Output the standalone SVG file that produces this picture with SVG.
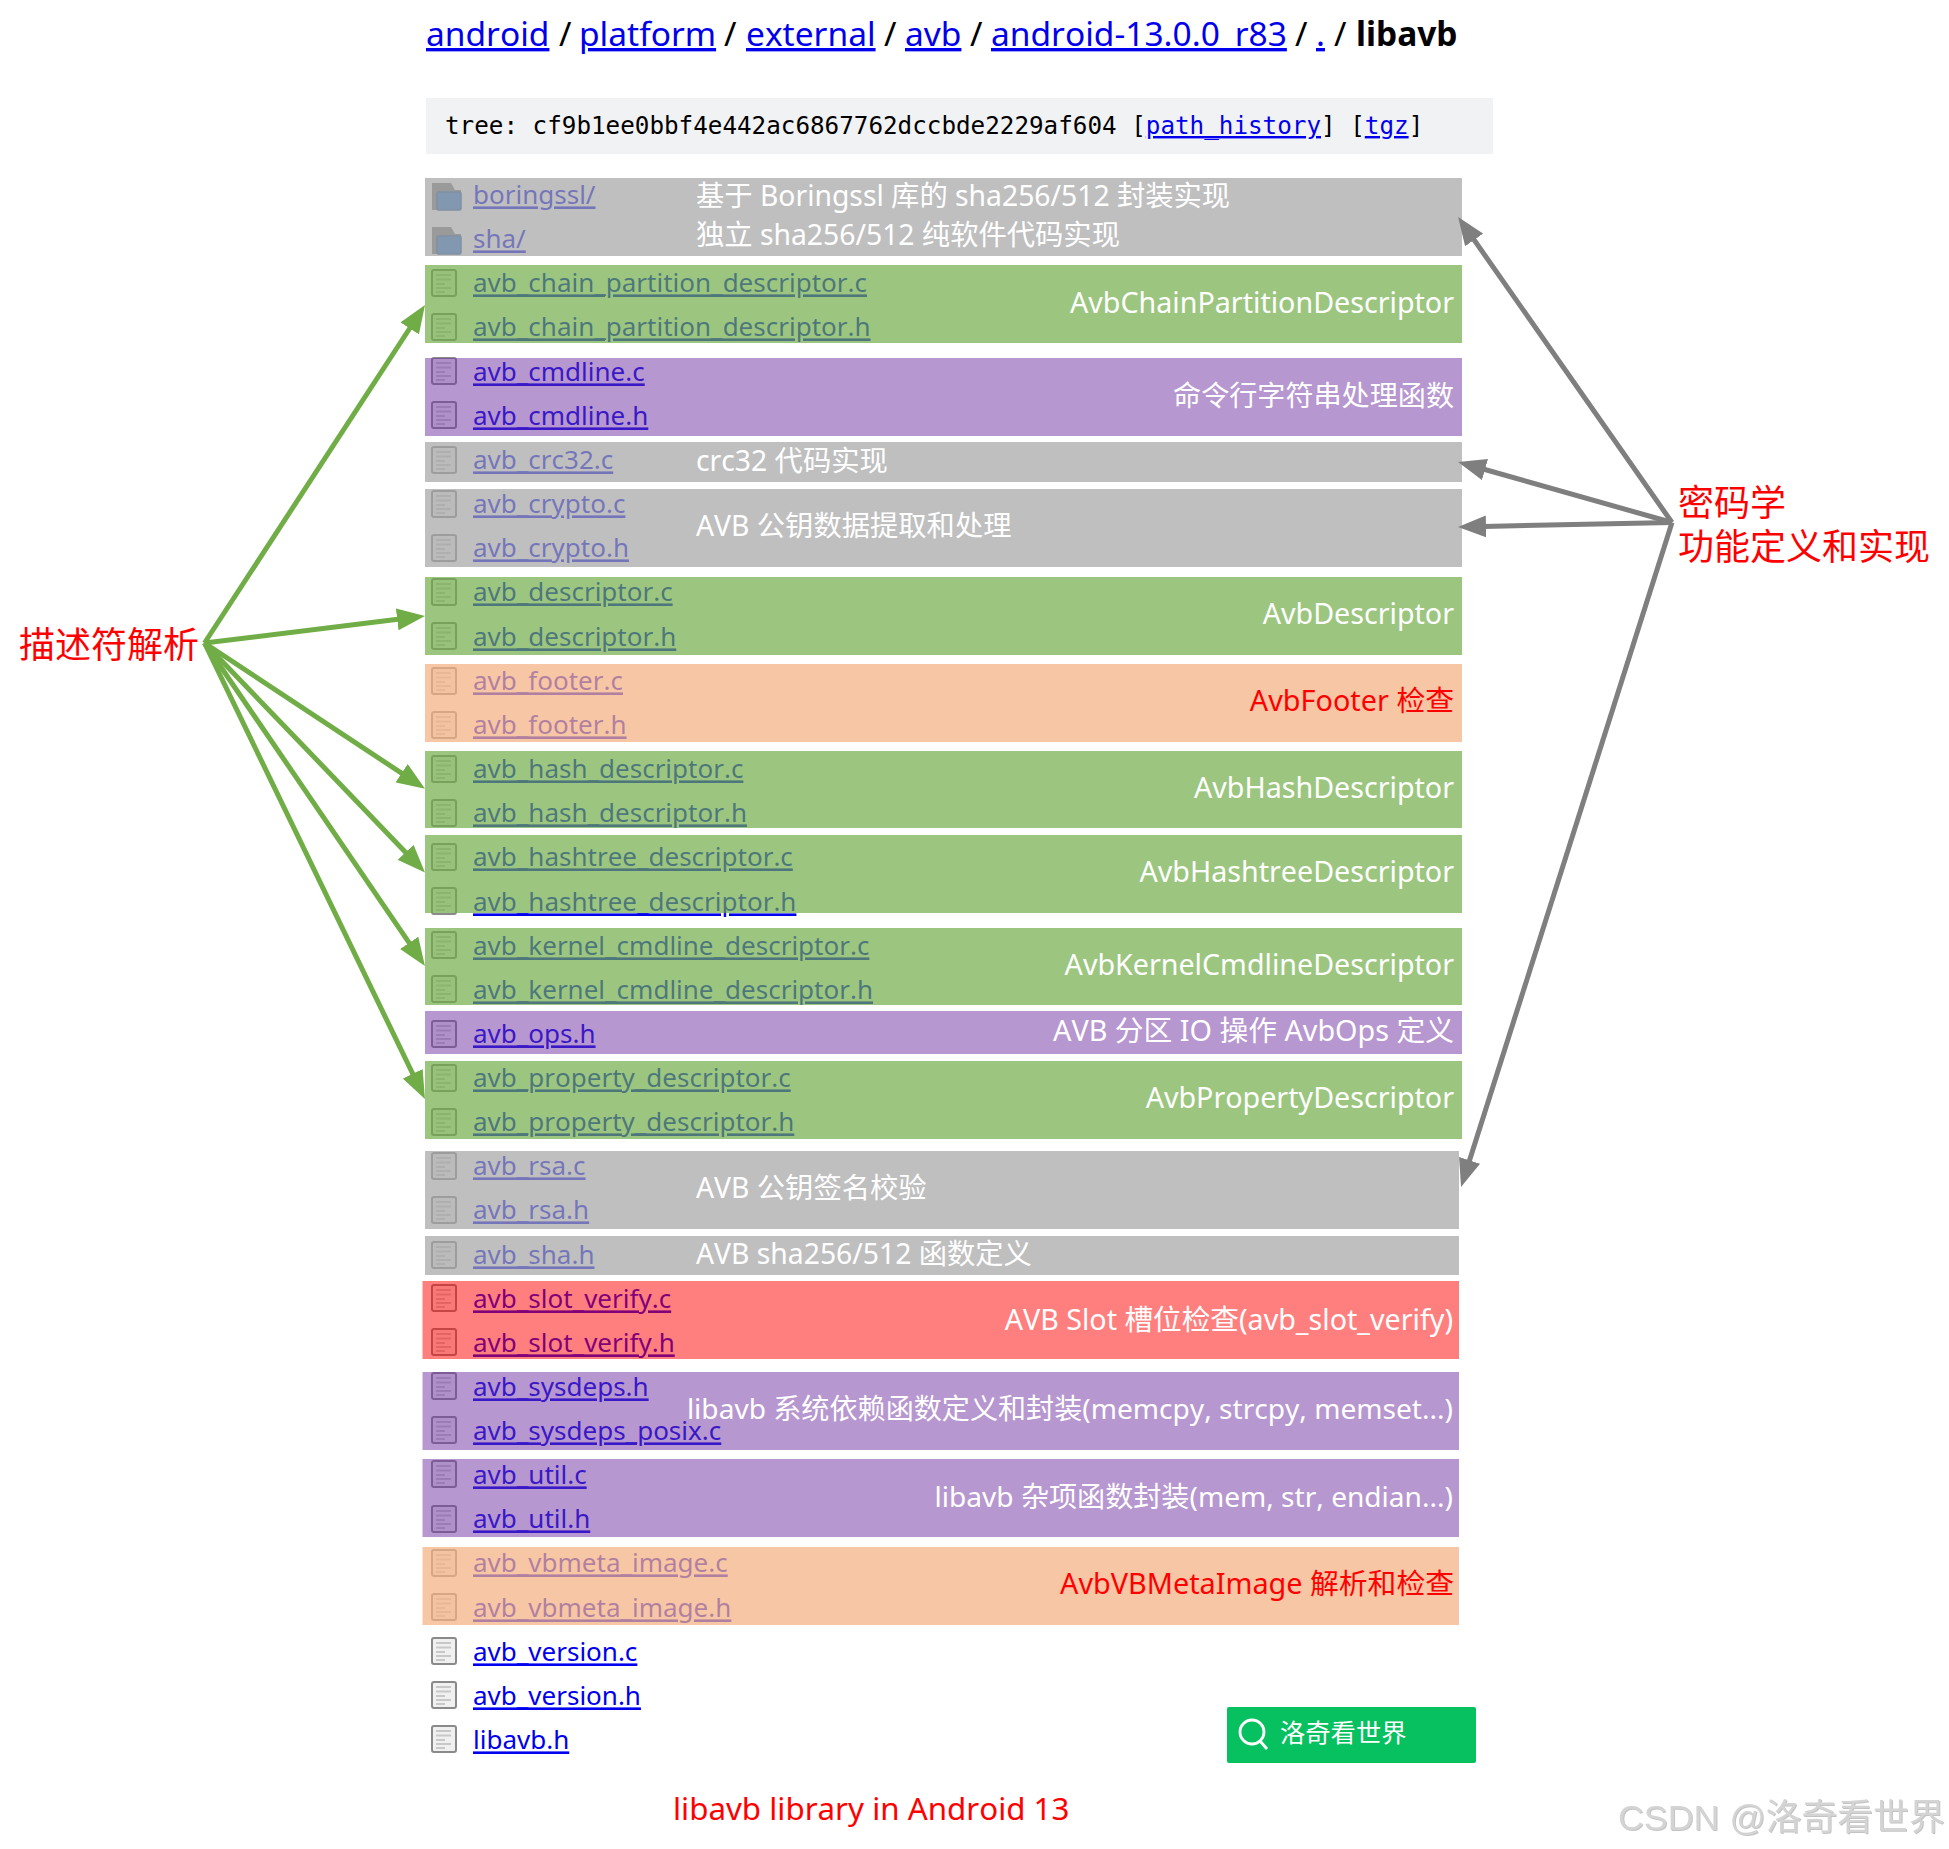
<svg xmlns="http://www.w3.org/2000/svg" xmlns:xlink="http://www.w3.org/1999/xlink" width="1949" height="1849" viewBox="0 0 1949 1849">
<style>
text{font-family:"Noto Sans","Noto Sans CJK SC",sans-serif;font-kerning:none}
.t{font-size:33.5px;fill:#000}
.l{fill:#0000ee;text-decoration:underline}
.f{font-size:26px;fill:#0000ee;text-decoration:underline;transform:translateY(0.4px)}
.m{font-family:"DejaVu Sans Mono",monospace;font-size:24.25px;fill:#000}
.w{font-size:28.3px;fill:#fff}
.w2{font-size:28.65px}
.w3{font-size:28.1px}
.e{text-anchor:end}
.r{font-size:28.8px;fill:#f00}
.cap{font-size:31.3px;fill:#f00}
.c{font-size:36px;fill:#f00}
.gy{fill:#a5a5a5;fill-opacity:.71}
.gn{fill:#70ad47;fill-opacity:.69}
.pu{fill:#7030a0;fill-opacity:.5}
.pe{fill:#f4b183;fill-opacity:.725}
.re{fill:#ff0000;fill-opacity:.5}
.ga{stroke:#7f7f7f;stroke-width:5;fill:none;marker-end:url(#ag)}
.na{stroke:#70ad47;stroke-width:5;fill:none;marker-end:url(#an)}
</style>
<defs>
<marker id="an" markerUnits="userSpaceOnUse" markerWidth="28" markerHeight="22" refX="13" refY="11" orient="auto"><path d="M0 0L28 11L0 22z" fill="#70ad47"/></marker>
<marker id="ag" markerUnits="userSpaceOnUse" markerWidth="28" markerHeight="22" refX="13" refY="11" orient="auto"><path d="M0 0L28 11L0 22z" fill="#7f7f7f"/></marker>
<filter id="soft" x="-10%" y="-10%" width="120%" height="120%"><feGaussianBlur stdDeviation="0.5"/></filter>
<g id="fi" filter="url(#soft)"><rect x="1" y="1" width="24" height="26" rx="2" fill="#f0f0f0" stroke="#8a8a8a" stroke-width="2"/><path d="M5 6H20M5 10.500H20M5 15H14M5 19H20M5 23H14" stroke="#c8c8c8" stroke-width="2"/></g>
<g id="fo" filter="url(#soft)"><path d="M1 1h19l4 7h6v20H1z" fill="#7f7f7f"/><rect x="6" y="10" width="24" height="18" rx="1.500" fill="#2f78cc" stroke="#2a5f9e" stroke-width="1.500"/></g>
<filter id="sh" x="-5%" y="-20%" width="110%" height="140%"><feDropShadow dx="1" dy="1" stdDeviation="0.500" flood-color="#c4c4c4"/></filter>
</defs>
<rect width="1949" height="1849" fill="#fff"/>
<g id="breadcrumb">
<text class="t l" x="426" y="46">android</text><text class="t" x="559" y="46">/</text>
<text class="t l" x="579" y="46">platform</text><text class="t" x="724" y="46">/</text>
<text class="t l" x="746" y="46">external</text><text class="t" x="884" y="46">/</text>
<text class="t l" x="905" y="46">avb</text><text class="t" x="970" y="46">/</text>
<text class="t l" x="991" y="46">android-13.0.0_r83</text><text class="t" x="1295" y="46">/</text>
<text class="t l" x="1316" y="46">.</text><text class="t" x="1334" y="46">/</text>
<text class="t" x="1356" y="46" font-weight="700">libavb</text>
</g>
<g id="tree-bar">
<rect x="426" y="98" width="1067" height="56" fill="#f1f2f4"/>
<text class="m" x="445" y="134">tree: cf9b1ee0bbf4e442ac6867762dccbde2229af604 [<tspan class="l">path_history</tspan>] [<tspan class="l">tgz</tspan>]</text>
</g>
<g id="band-sha">
<use href="#fo" x="431" y="182"/><text class="f" x="473" y="204">boringssl/</text>
<use href="#fo" x="431" y="226"/><text class="f" x="473" y="248">sha/</text>
<rect class="gy" x="425" y="178" width="1037" height="78"/>
<text class="w" x="696" y="206">基于 Boringssl 库的 sha256/512 封装实现</text>
<text class="w" x="696" y="245">独立 sha256/512 纯软件代码实现</text>
</g>
<g id="band-chain">
<use href="#fi" x="431" y="269"/><text class="f" x="473" y="292">avb_chain_partition_descriptor.c</text>
<use href="#fi" x="431" y="313"/><text class="f" x="473" y="336">avb_chain_partition_descriptor.h</text>
<rect class="gn" x="425" y="265" width="1037" height="78"/>
<text class="w w2 e" x="1454" y="313">AvbChainPartitionDescriptor</text>
</g>
<g id="band-cmdline">
<use href="#fi" x="431" y="357"/><text class="f" x="473" y="381">avb_cmdline.c</text>
<use href="#fi" x="431" y="401"/><text class="f" x="473" y="425">avb_cmdline.h</text>
<rect class="pu" x="425" y="358" width="1037" height="78"/>
<text class="w w3 e" x="1454" y="406">命令行字符串处理函数</text>
</g>
<g id="band-crc32">
<use href="#fi" x="431" y="446"/><text class="f" x="473" y="469">avb_crc32.c</text>
<rect class="gy" x="425" y="442" width="1037" height="40"/>
<text class="w" x="696" y="471">crc32 代码实现</text>
</g>
<g id="band-crypto">
<use href="#fi" x="431" y="490"/><text class="f" x="473" y="513">avb_crypto.c</text>
<use href="#fi" x="431" y="534"/><text class="f" x="473" y="557">avb_crypto.h</text>
<rect class="gy" x="425" y="489" width="1037" height="78"/>
<text class="w" x="696" y="536">AVB 公钥数据提取和处理</text>
</g>
<g id="band-descriptor">
<use href="#fi" x="431" y="578"/><text class="f" x="473" y="601">avb_descriptor.c</text>
<use href="#fi" x="431" y="622"/><text class="f" x="473" y="646">avb_descriptor.h</text>
<rect class="gn" x="425" y="577" width="1037" height="78"/>
<text class="w w2 e" x="1454" y="624">AvbDescriptor</text>
</g>
<g id="band-footer">
<use href="#fi" x="431" y="667"/><text class="f" x="473" y="690">avb_footer.c</text>
<use href="#fi" x="431" y="711"/><text class="f" x="473" y="734">avb_footer.h</text>
<rect class="pe" x="425" y="664" width="1037" height="78"/>
<text class="r e" x="1454" y="711">AvbFooter 检查</text>
</g>
<g id="band-hash">
<use href="#fi" x="431" y="755"/><text class="f" x="473" y="778">avb_hash_descriptor.c</text>
<use href="#fi" x="431" y="799"/><text class="f" x="473" y="822">avb_hash_descriptor.h</text>
<rect class="gn" x="425" y="751" width="1037" height="77"/>
<text class="w w2 e" x="1454" y="798">AvbHashDescriptor</text>
</g>
<g id="band-hashtree">
<use href="#fi" x="431" y="843"/><text class="f" x="473" y="866">avb_hashtree_descriptor.c</text>
<use href="#fi" x="431" y="887"/><text class="f" x="473" y="911">avb_hashtree_descriptor.h</text>
<rect class="gn" x="425" y="835" width="1037" height="78"/>
<text class="w w2 e" x="1454" y="882">AvbHashtreeDescriptor</text>
</g>
<g id="band-kernel">
<use href="#fi" x="431" y="931"/><text class="f" x="473" y="955">avb_kernel_cmdline_descriptor.c</text>
<use href="#fi" x="431" y="975"/><text class="f" x="473" y="999">avb_kernel_cmdline_descriptor.h</text>
<rect class="gn" x="425" y="928" width="1037" height="77"/>
<text class="w w2 e" x="1454" y="975">AvbKernelCmdlineDescriptor</text>
</g>
<g id="band-ops">
<use href="#fi" x="431" y="1020"/><text class="f" x="473" y="1043">avb_ops.h</text>
<rect class="pu" x="425" y="1011" width="1037" height="43"/>
<text class="w e" style="font-size:28.75px" x="1454" y="1041">AVB 分区 IO 操作 AvbOps 定义</text>
</g>
<g id="band-property">
<use href="#fi" x="431" y="1064"/><text class="f" x="473" y="1087">avb_property_descriptor.c</text>
<use href="#fi" x="431" y="1108"/><text class="f" x="473" y="1131">avb_property_descriptor.h</text>
<rect class="gn" x="425" y="1061" width="1037" height="78"/>
<text class="w w2 e" x="1454" y="1108">AvbPropertyDescriptor</text>
</g>
<g id="band-rsa">
<use href="#fi" x="431" y="1152"/><text class="f" x="473" y="1175">avb_rsa.c</text>
<use href="#fi" x="431" y="1196"/><text class="f" x="473" y="1219">avb_rsa.h</text>
<rect class="gy" x="425" y="1151" width="1034" height="78"/>
<text class="w" x="696" y="1198">AVB 公钥签名校验</text>
</g>
<g id="band-sha-h">
<use href="#fi" x="431" y="1241"/><text class="f" x="473" y="1264">avb_sha.h</text>
<rect class="gy" x="425" y="1236" width="1034" height="39"/>
<text class="w" x="696" y="1264">AVB sha256/512 函数定义</text>
</g>
<g id="band-slot">
<use href="#fi" x="431" y="1284"/><text class="f" x="473" y="1308">avb_slot_verify.c</text>
<use href="#fi" x="431" y="1328"/><text class="f" x="473" y="1352">avb_slot_verify.h</text>
<rect class="re" x="422.500" y="1281" width="1036.500" height="78"/>
<text class="w w2 e" x="1453" y="1330">AVB Slot 槽位检查(avb_slot_verify)</text>
</g>
<g id="band-sysdeps">
<use href="#fi" x="431" y="1372"/><text class="f" x="473" y="1396">avb_sysdeps.h</text>
<use href="#fi" x="431" y="1416"/><text class="f" x="473" y="1440">avb_sysdeps_posix.c</text>
<rect class="pu" x="422.500" y="1372" width="1036.500" height="78"/>
<text class="w w3 e" x="1453" y="1419">libavb 系统依赖函数定义和封装(memcpy, strcpy, memset...)</text>
</g>
<g id="band-util">
<use href="#fi" x="431" y="1460"/><text class="f" x="473" y="1484">avb_util.c</text>
<use href="#fi" x="431" y="1505"/><text class="f" x="473" y="1528">avb_util.h</text>
<rect class="pu" x="422.500" y="1459" width="1036.500" height="78"/>
<text class="w w3 e" x="1453" y="1507">libavb 杂项函数封装(mem, str, endian...)</text>
</g>
<g id="band-vbmeta">
<use href="#fi" x="431" y="1549"/><text class="f" x="473" y="1572">avb_vbmeta_image.c</text>
<use href="#fi" x="431" y="1593"/><text class="f" x="473" y="1617">avb_vbmeta_image.h</text>
<rect class="pe" x="422.500" y="1547" width="1036.500" height="78"/>
<text class="r e" x="1454" y="1594">AvbVBMetaImage 解析和检查</text>
</g>
<g id="row-version-c"><use href="#fi" x="431" y="1637"/><text class="f" x="473" y="1661">avb_version.c</text></g>
<g id="row-version-h"><use href="#fi" x="431" y="1681"/><text class="f" x="473" y="1705">avb_version.h</text></g>
<g id="row-libavb-h"><use href="#fi" x="431" y="1725"/><text class="f" x="473" y="1749">libavb.h</text></g>
<g id="search-box">
<rect x="1227" y="1707" width="249" height="56" rx="2" fill="#07c160"/>
<circle cx="1252" cy="1732" r="12" fill="none" stroke="#fff" stroke-width="2.800"/>
<path d="M1260 1741L1267 1749" stroke="#fff" stroke-width="2.800" fill="none"/>
<text x="1280" y="1742" font-size="25.300" fill="#fff">洛奇看世界</text>
</g>
<g id="label-crypto"><text class="c" x="1678" y="516">密码学</text><text class="c" x="1678" y="560">功能定义和实现</text></g>
<g id="label-descriptor"><text class="c" x="19" y="658">描述符解析</text></g>
<g id="caption"><text class="cap" x="673" y="1820">libavb library in Android 13</text></g>
<g id="watermark"><text x="1618" y="1830" font-size="35.800" fill="#d4d4d4" filter="url(#sh)" style="font-family:'Liberation Sans','Noto Sans CJK SC',sans-serif">CSDN @洛奇看世界</text></g>
<g id="connectors">
<path class="na" d="M204.500 643L416.800 317.500"/>
<path class="na" d="M204.500 643L410.100 617.800"/>
<path class="na" d="M204.500 643L412.500 780.400"/>
<path class="na" d="M204.500 643L414.600 861.700"/>
<path class="na" d="M204.500 643L416.500 953.600"/>
<path class="na" d="M204.500 643L418.400 1085.500"/>
<path class="ga" d="M1672 522.500L1466.700 229.300"/>
<path class="ga" d="M1672 522.500L1472.500 466"/>
<path class="ga" d="M1672 522.500L1473 526.700"/>
<path class="ga" d="M1672 522.500L1465.600 1172.700"/>
</g>
</svg>
